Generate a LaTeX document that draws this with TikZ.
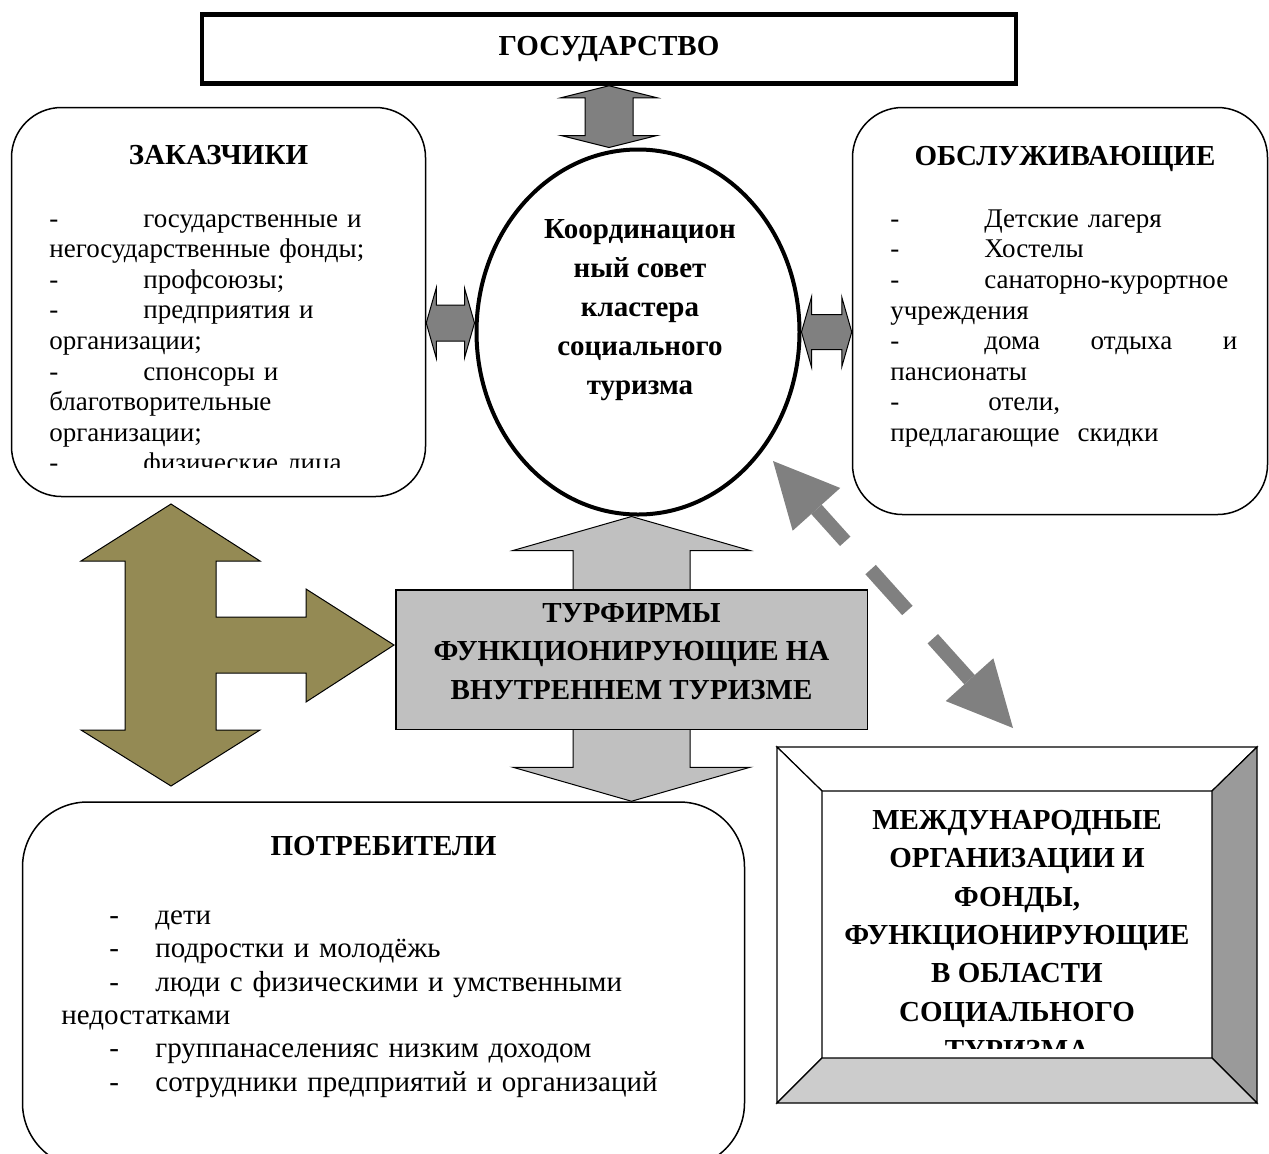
\documentclass[tikz,border=0pt]{standalone}
\usepackage{fontspec}
\setmainfont{Liberation Serif}
\usetikzlibrary{positioning,calc,arrows.meta,backgrounds,shapes.geometric}
\definecolor{arrgray}{HTML}{808080}
\definecolor{boxgray}{HTML}{C0C0C0}
\definecolor{arrolive}{HTML}{948A54}
\definecolor{bevdark}{HTML}{9A9A9A}
\definecolor{bevlight}{HTML}{CCCCCC}

\begin{document}
\begin{tikzpicture}[x=0.5pt, y=-0.5pt,
    round_box/.style={draw, rounded corners=25pt, line width=0.75pt, inner sep=0pt},
    head_txt/.style={font=\fontsize{14.5}{17}\selectfont\bfseries, inner sep=0pt},
    item_txt/.style={font=\fontsize{13.5}{15.3}\selectfont, align=left, inner sep=0pt, anchor=west},
    bold_txt/.style={font=\fontsize{14.5}{19.5}\selectfont\bfseries, align=center, inner sep=0pt},
    dark_arrow/.style={draw, fill=arrgray, line width=0.5pt},
    light_arrow/.style={draw, fill=boxgray, line width=0.5pt},
    olive_arrow/.style={draw, fill=arrolive, line width=0.5pt},
    dash_arrow/.style={draw=arrgray, line width=7pt,
        {Triangle[length=32.5pt,width=32pt,line width=0pt]}-{Triangle[length=32.5pt,width=32pt,line width=0pt]},
        dash pattern=on 21.5pt off 19pt on 27.5pt off 19pt on 40pt},
    frame_node/.style={rectangle, inner sep=0pt, outer sep=0pt},
    bevel/.style={draw, line width=0.6pt}]
    \useasboundingbox (0,0) rectangle (1269,1153);

    % boxes
    \node[draw, line width=2.25pt, minimum width=407pt, minimum height=34.5pt,
        font=\fontsize{14.5}{17}\selectfont\bfseries] (gos) at (609,49) {ГОСУДАРСТВО};

    \node[round_box, minimum width=207pt, minimum height=194.5pt] (zak) at (218.5,302) {};
    \node[head_txt] (zak_head) at (218.5,155) {ЗАКАЗЧИКИ};
    \begin{scope}
        \clip (zak.north west) rectangle (426,467);
        \node[item_txt, text width=160pt] (zak_list) at (49,346) {\noindent\makebox[47pt][l]{-}государственные и\\
            негосударственные фонды;\\
            \makebox[47pt][l]{-}профсоюзы;\\
            \makebox[47pt][l]{-}предприятия и\\
            организации;\\
            \makebox[47pt][l]{-}спонсоры и\\
            благотворительные\\
            организации;\\
            \makebox[47pt][l]{-}физические лица};
    \end{scope}

    \node[round_box, minimum width=207.5pt, minimum height=203.5pt] (obs) at (1060,311) {};
    \node[head_txt] (obs_head) at (1065,159) {ОБСЛУЖИВАЮЩИЕ};
    \node[item_txt, text width=173.5pt] (obs_list) at (890,328.5) {\noindent\makebox[47pt][l]{-}Детские лагеря\\
        \makebox[47pt][l]{-}Хостелы\\
        \makebox[47pt][l]{-}санаторно-курортное\\
        учреждения\\
        \makebox[47pt][l]{-}дома\hfill отдыха\hfill и\\
        пансионаты\\
        \makebox[49pt][l]{-}отели,\\
        предлагающие\ \ скидки};

    \node[draw, ellipse, line width=2pt, minimum width=161.5pt, minimum height=182.5pt, inner sep=0pt] (coun) at (638,332) {};
    \node[bold_txt] (coun_txt) at (640,310) {Координацион\\ный совет\\кластера\\социального\\туризма};

    \node[draw, fill=boxgray, line width=0.75pt, minimum width=235.75pt, minimum height=69.75pt] (tur) at (631.5,659.5) {};
    \node[bold_txt, font=\fontsize{14.5}{19.25}\selectfont\bfseries] (tur_txt) at (631.5,651.5) {ТУРФИРМЫ\\ФУНКЦИОНИРУЮЩИЕ НА\\ВНУТРЕННЕМ ТУРИЗМЕ};

    \node[round_box, rounded corners=32.5pt, minimum width=361pt, minimum height=183pt] (potr) at (383.5,985) {};
    \node[head_txt] (potr_head) at (383.5,846) {ПОТРЕБИТЕЛИ};
    \node[item_txt, font=\fontsize{14.5}{16.7}\selectfont, text width=320pt] (potr_list) at (61,1004) {\noindent\hspace*{24pt}\makebox[23pt][l]{-}дети\\
        \hspace*{24pt}\makebox[23pt][l]{-}подростки и молодёжь\\
        \hspace*{24pt}\makebox[23pt][l]{-}люди с физическими и умственными\\
        недостатками\\
        \hspace*{24pt}\makebox[23pt][l]{-}группанаселенияс низким доходом\\
        \hspace*{24pt}\makebox[23pt][l]{-}сотрудники предприятий и организаций};

    % bevel frame
    \node[frame_node, minimum width=240pt, minimum height=178pt] (mezh) at (1017,925) {};
    \node[frame_node, minimum width=195pt, minimum height=133.5pt] (mezh_in) at (1017,924.5) {};
    \filldraw[bevel, fill=white] (mezh.north west) -- (mezh.north east) -- (mezh_in.north east) -- (mezh_in.north west) -- cycle;
    \filldraw[bevel, fill=white] (mezh.north west) -- (mezh_in.north west) -- (mezh_in.south west) -- (mezh.south west) -- cycle;
    \filldraw[bevel, fill=bevdark] (mezh.north east) -- (mezh.south east) -- (mezh_in.south east) -- (mezh_in.north east) -- cycle;
    \filldraw[bevel, fill=bevlight] (mezh.south west) -- (mezh.south east) -- (mezh_in.south east) -- (mezh_in.south west) -- cycle;
    \begin{scope}
        \clip (mezh_in.north west) rectangle ($(mezh_in.south east)+(0,-10)$);
        \node[bold_txt, font=\fontsize{14.5}{19.2}\selectfont\bfseries] (mezh_txt) at (1017,935) {МЕЖДУНАРОДНЫЕ\\ОРГАНИЗАЦИИ И\\ФОНДЫ,\\ФУНКЦИОНИРУЮЩИЕ\\В ОБЛАСТИ\\СОЦИАЛЬНОГО\\ТУРИЗМА};
    \end{scope}

    % arrows
    \coordinate (gos_c) at (gos.south |- coun.north);
    \draw[dark_arrow] (gos.south) -- ++(48,12) -- ++(-24,0) -- ($(gos_c)+(24,-12)$) -- ++(24,0) -- (gos_c)
        -- ++(-48,-12) -- ++(24,0) -- ($(gos.south)+(-24,12)$) -- ++(-24,0) -- cycle;

    \coordinate (zak_r) at ($(zak.east)+(0,21)$);
    \coordinate (coun_l) at (zak_r -| coun.west);
    \draw[dark_arrow] (zak_r) -- ++(10,-35) -- ++(0,17) -- ($(coun_l)+(-10,-18)$) -- ++(0,-17) -- (coun_l)
        -- ++(-10,35) -- ++(0,-17) -- ($(zak_r)+(10,18)$) -- ++(0,17) -- cycle;

    \coordinate (obs_l) at (coun.east -| obs.west);
    \draw[dark_arrow] (coun.east) -- ++(10,-35) -- ++(0,17.5) -- ($(obs_l)+(-10,-17.5)$) -- ++(0,-17.5) -- (obs_l)
        -- ++(-10,35) -- ++(0,-17.5) -- ($(coun.east)+(10,17.5)$) -- ++(0,17.5) -- cycle;

    \coordinate (tur_top) at (tur.north |- coun.south);
    \coordinate (tur_bot) at (tur.south |- potr.north);
    \begin{scope}[on background layer]
        \draw[light_arrow] (tur_top) -- ++(118.5,34) -- ++(-60,0) -- ($(tur_bot)+(58.5,-34)$) -- ++(60,0) -- (tur_bot)
            -- ++(-118.5,-34) -- ++(60,0) -- ($(tur_top)+(-58.5,34)$) -- ++(-60,0) -- cycle;
    \end{scope}

    \coordinate (olv_tip) at ($(tur.west)+(-1,-14.5)$);
    \draw[olive_arrow] (171,504) -- (260,561) -- (216,561) -- (216,617) -- (306,617) -- (306,589) -- (olv_tip)
        -- (306,702) -- (306,673) -- (216,673) -- (216,730) -- (260,730) -- (171,786) -- (81,730)
        -- (125,730) -- (125,561) -- (81,561) -- cycle;

    \coordinate (dash_a) at (773,461);
    \coordinate (dash_b) at (1013,728);
    \draw[dash_arrow] (dash_a) -- (dash_b);
\end{tikzpicture}
\end{document}
